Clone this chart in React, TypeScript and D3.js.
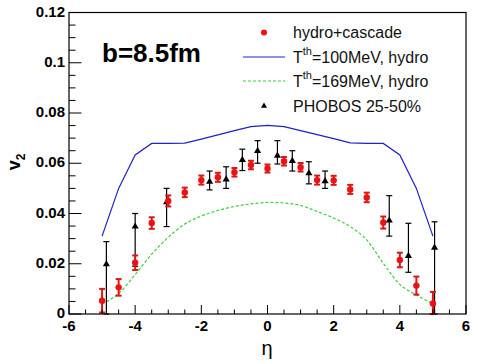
import React from 'react';
import * as d3 from 'd3';

// pseudorapidity grid of the model curves / cascade points
const etaGrid = [-5, -4.5, -4, -3.5, -3, -2.5, -2, -1.5, -1, -0.5, 0, 0.5, 1, 1.5, 2, 2.5, 3, 3.5, 4, 4.5, 5];

// hydro+cascade (red dots)
const cascadeV2 = [0.0053, 0.0106, 0.0204, 0.0362, 0.045, 0.0484, 0.0533, 0.0544, 0.0564, 0.0593, 0.0579, 0.0608, 0.0584, 0.0533, 0.0532, 0.0496, 0.0464, 0.0364, 0.0215, 0.0113, 0.0042];
const cascadeErr = [0.0047, 0.0033, 0.0029, 0.0023, 0.0022, 0.0019, 0.0018, 0.0018, 0.0017, 0.0017, 0.0016, 0.0017, 0.0017, 0.0018, 0.0018, 0.0018, 0.0019, 0.0024, 0.0029, 0.0036, 0.0046];

// Tth=100MeV hydro (blue) and Tth=169MeV hydro (green dashed)
const hydro100 = [0.031, 0.05, 0.0633, 0.0679, 0.0679, 0.068, 0.0696, 0.0713, 0.073, 0.0746, 0.0751, 0.0746, 0.073, 0.0714, 0.0698, 0.0681, 0.0679, 0.0679, 0.0633, 0.05, 0.031];
const hydro169 = [0.004, 0.0082, 0.0157, 0.0238, 0.0305, 0.0358, 0.039, 0.0412, 0.0428, 0.0438, 0.0444, 0.0442, 0.0432, 0.0408, 0.0382, 0.0348, 0.0295, 0.0202, 0.0118, 0.0076, 0.004];

// PHOBOS 25-50% (black triangles)
const phobosEta = [-4.87, -4.0, -3.05, -1.75, -1.25, -0.76, -0.3, 0.3, 0.75, 1.25, 1.74, 3.68, 4.26, 5.05];
const phobosV2 = [0.0198, 0.0348, 0.0445, 0.0527, 0.0536, 0.0613, 0.0649, 0.063, 0.0609, 0.056, 0.0529, 0.0372, 0.0231, 0.0264];
const phobosLo = [0, 0.019, 0.0348, 0.0494, 0.05, 0.0571, 0.06, 0.0597, 0.0569, 0.0518, 0.05, 0.031, 0.0166, 0];
const phobosHi = [0.0288, 0.04, 0.05, 0.0569, 0.0586, 0.0656, 0.069, 0.069, 0.065, 0.0606, 0.0569, 0.0471, 0.0361, 0.0367];

const xTickLabels = [-6, -4, -2, 0, 2, 4, 6];
const yTickLabels = ['0', '0.02', '0.04', '0.06', '0.08', '0.1', '0.12'];

const W = 478;
const H = 364;
const FONT = '"Liberation Sans", Arial, sans-serif';

export default function App() {
  const x = d3.scaleLinear().domain([-6, 6]).range([69, 466]);
  const y = d3.scaleLinear().domain([0, 0.12]).range([314, 12.5]);

  const line = d3
    .line<number>()
    .x((_, i) => x(etaGrid[i]))
    .y((d) => y(d));
  const smooth = d3
    .line<number>()
    .x((_, i) => x(etaGrid[i]))
    .y((d) => y(d))
    .curve(d3.curveMonotoneX);

  const xMinor = d3.range(-6, 6.01, 0.5);
  const yMinor = d3.range(0, 0.1201, 0.005);
  const triangle = d3.symbol(d3.symbolTriangle, 22)();

  const [x0, x1] = x.range();
  const [y0, y1] = y.range();

  return (
    <svg
      width={W}
      height={H}
      style={{ position: 'absolute', left: 0, top: 0, background: '#fff', fontFamily: FONT }}
    >
      {/* green dashed hydro 169 */}
      <path d={smooth(hydro169) || ''} fill="none" stroke="#3ccf3c" strokeWidth={1.2} strokeDasharray="3,2" />
      {/* blue hydro 100 */}
      <path d={line(hydro100) || ''} fill="none" stroke="#2020c8" strokeWidth={1.2} />

      {/* PHOBOS */}
      {phobosEta.map((e, i) => (
        <g key={'p' + i}>
          <line x1={x(e)} x2={x(e)} y1={y(phobosLo[i])} y2={y(phobosHi[i])} stroke="#000" strokeWidth={1.2} />
          <line x1={x(e) - 3} x2={x(e) + 3} y1={y(phobosHi[i])} y2={y(phobosHi[i])} stroke="#000" strokeWidth={1.2} />
          <line x1={x(e) - 3} x2={x(e) + 3} y1={y(phobosLo[i])} y2={y(phobosLo[i])} stroke="#000" strokeWidth={1.2} />
          <path d={triangle || ''} transform={`translate(${x(e)},${y(phobosV2[i])})`} fill="#000" />
        </g>
      ))}

      {/* hydro+cascade */}
      {etaGrid.map((e, i) => {
        const hi = y(cascadeV2[i] + cascadeErr[i]);
        const lo = y(Math.max(0, cascadeV2[i] - cascadeErr[i]));
        return (
          <g key={'c' + i}>
            <line x1={x(e)} x2={x(e)} y1={lo} y2={hi} stroke="#d81818" strokeWidth={2} />
            <line x1={x(e) - 3} x2={x(e) + 3} y1={hi} y2={hi} stroke="#d81818" strokeWidth={2} />
            <line x1={x(e) - 3} x2={x(e) + 3} y1={lo} y2={lo} stroke="#d81818" strokeWidth={2} />
            <circle cx={x(e)} cy={y(cascadeV2[i])} r={3.2} fill="#ee1111" />
          </g>
        );
      })}

      {/* frame */}
      <rect x={x0} y={y1} width={x1 - x0} height={y0 - y1} fill="none" stroke="#000" strokeWidth={1.2} />

      {/* x ticks */}
      {xMinor.map((v) => {
        const major = Math.abs(v % 2) < 1e-6;
        return (
          <line key={'xt' + v} x1={x(v)} x2={x(v)} y1={y0} y2={y0 - (major ? 9 : 4.5)} stroke="#000" />
        );
      })}
      {xTickLabels.map((v) => (
        <text key={'xl' + v} x={x(v)} y={331} textAnchor="middle" fontSize={15} fontWeight="bold">
          {v}
        </text>
      ))}

      {/* y ticks */}
      {yMinor.map((v, i) => {
        const major = i % 4 === 0;
        return <line key={'yt' + i} x1={x0} x2={x0 + (major ? 12.5 : 6.5)} y1={y(v)} y2={y(v)} stroke="#000" />;
      })}
      {yTickLabels.map((t) => (
        <text key={'yl' + t} x={65} y={y(+t) - 1.5} textAnchor="end" dominantBaseline="central" fontSize={15} fontWeight="bold">
          {t}
        </text>
      ))}

      {/* axis titles */}
      <text x={267} y={355} textAnchor="middle" fontSize={20}>
        η
      </text>
      <text transform="translate(20,162) rotate(-90)" textAnchor="middle" fontSize={18} fontWeight="bold">
        v<tspan fontSize={12} dy={5}>2</tspan>
      </text>

      <text x={102} y={62} fontSize={26} fontWeight="bold">
        b=8.5fm
      </text>

      {/* legend */}
      <g fontSize={16} fill="#111">
        <circle cx={264} cy={32.5} r={3} fill="#ee1111" />
        <text x={293} y={32.5} dominantBaseline="central">hydro+cascade</text>

        <line x1={243} x2={285} y1={57} y2={57} stroke="#2020c8" strokeWidth={1.2} />
        <text x={293} y={57} dominantBaseline="central">
          T<tspan fontSize={11} dy={-6}>th</tspan>
          <tspan dy={6}>=100MeV, hydro</tspan>
        </text>

        <line x1={243} x2={285} y1={81} y2={81} stroke="#3ccf3c" strokeWidth={1.2} strokeDasharray="3,2" />
        <text x={293} y={81} dominantBaseline="central">
          T<tspan fontSize={11} dy={-6}>th</tspan>
          <tspan dy={6}>=169MeV, hydro</tspan>
        </text>

        <path d={d3.symbol(d3.symbolTriangle, 16)() || ''} transform="translate(264,106)" fill="#000" />
        <text x={293} y={106} dominantBaseline="central">PHOBOS 25-50%</text>
      </g>
    </svg>
  );
}
